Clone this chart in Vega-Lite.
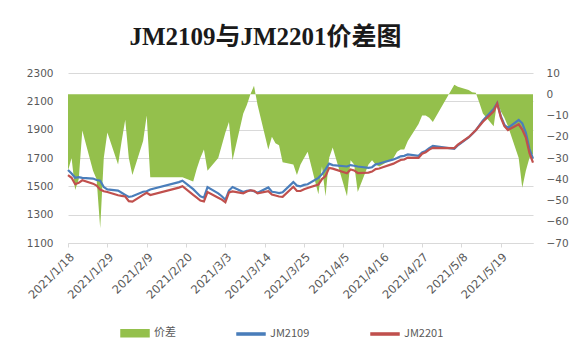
{
  "$schema": "https://vega.github.io/schema/vega-lite/v6.json",
  "width": 465,
  "height": 170,
  "autosize": "none",
  "padding": {"left": 68, "top": 73, "right": 41, "bottom": 106},
  "background": "white",
  "title": {"text": "JM2109与JM2201价差图", "font": "Liberation Serif, Noto Sans CJK SC", "fontSize": 25, "fontWeight": "bold", "color": "#1a1a1a", "anchor": "middle", "dx": -35, "offset": 18},
  "config": {
    "view": {"stroke": null},
    "axis": {"labelColor": "#595959", "labelFont": "DejaVu Sans", "title": null},
    "legend": {"labelFont": "Noto Sans CJK SC", "labelFontSize": 11, "labelColor": "#595959"}
  },
  "data": {"values": [
    {"date": "2021-01-18", "spread": -36, "JM2109": 1615, "JM2201": 1579},
    {"date": "2021-01-19", "spread": -30, "JM2109": 1590, "JM2201": 1560},
    {"date": "2021-01-20", "spread": -45, "JM2109": 1560, "JM2201": 1515},
    {"date": "2021-01-21", "spread": -40, "JM2109": 1565, "JM2201": 1525},
    {"date": "2021-01-22", "spread": -17, "JM2109": 1560, "JM2201": 1543},
    {"date": "2021-01-25", "spread": -36, "JM2109": 1555, "JM2201": 1519},
    {"date": "2021-01-26", "spread": -40, "JM2109": 1545, "JM2201": 1505},
    {"date": "2021-01-27", "spread": -63, "JM2109": 1540, "JM2201": 1477},
    {"date": "2021-01-28", "spread": -30, "JM2109": 1495, "JM2201": 1465},
    {"date": "2021-01-29", "spread": -18, "JM2109": 1478, "JM2201": 1460},
    {"date": "2021-02-01", "spread": -33, "JM2109": 1470, "JM2201": 1437},
    {"date": "2021-02-02", "spread": -22, "JM2109": 1455, "JM2201": 1433},
    {"date": "2021-02-03", "spread": -12, "JM2109": 1440, "JM2201": 1428},
    {"date": "2021-02-04", "spread": -30, "JM2109": 1425, "JM2201": 1395},
    {"date": "2021-02-05", "spread": -38, "JM2109": 1430, "JM2201": 1392},
    {"date": "2021-02-08", "spread": -22, "JM2109": 1462, "JM2201": 1440},
    {"date": "2021-02-09", "spread": -10, "JM2109": 1465, "JM2201": 1455},
    {"date": "2021-02-10", "spread": -39, "JM2109": 1478, "JM2201": 1439},
    {"date": "2021-02-18", "spread": -39, "JM2109": 1530, "JM2201": 1491},
    {"date": "2021-02-19", "spread": -39, "JM2109": 1540, "JM2201": 1501},
    {"date": "2021-02-22", "spread": -41, "JM2109": 1480, "JM2201": 1439},
    {"date": "2021-02-23", "spread": -35, "JM2109": 1455, "JM2201": 1420},
    {"date": "2021-02-24", "spread": -30, "JM2109": 1430, "JM2201": 1400},
    {"date": "2021-02-25", "spread": -26, "JM2109": 1420, "JM2201": 1394},
    {"date": "2021-02-26", "spread": -36, "JM2109": 1495, "JM2201": 1459},
    {"date": "2021-03-01", "spread": -30, "JM2109": 1450, "JM2201": 1420},
    {"date": "2021-03-02", "spread": -24, "JM2109": 1430, "JM2201": 1406},
    {"date": "2021-03-03", "spread": -18, "JM2109": 1405, "JM2201": 1387},
    {"date": "2021-03-04", "spread": -13, "JM2109": 1470, "JM2201": 1457},
    {"date": "2021-03-05", "spread": -31, "JM2109": 1495, "JM2201": 1464},
    {"date": "2021-03-08", "spread": -9, "JM2109": 1460, "JM2201": 1451},
    {"date": "2021-03-09", "spread": -5, "JM2109": 1468, "JM2201": 1463},
    {"date": "2021-03-10", "spread": 0, "JM2109": 1472, "JM2201": 1472},
    {"date": "2021-03-11", "spread": 4, "JM2109": 1465, "JM2201": 1469},
    {"date": "2021-03-12", "spread": -5, "JM2109": 1455, "JM2201": 1450},
    {"date": "2021-03-15", "spread": -26, "JM2109": 1492, "JM2201": 1466},
    {"date": "2021-03-16", "spread": -20, "JM2109": 1462, "JM2201": 1442},
    {"date": "2021-03-17", "spread": -23, "JM2109": 1458, "JM2201": 1435},
    {"date": "2021-03-18", "spread": -24, "JM2109": 1452, "JM2201": 1428},
    {"date": "2021-03-19", "spread": -32, "JM2109": 1458, "JM2201": 1426},
    {"date": "2021-03-22", "spread": -33, "JM2109": 1530, "JM2201": 1497},
    {"date": "2021-03-23", "spread": -38, "JM2109": 1505, "JM2201": 1467},
    {"date": "2021-03-24", "spread": -33, "JM2109": 1500, "JM2201": 1467},
    {"date": "2021-03-25", "spread": -30, "JM2109": 1510, "JM2201": 1480},
    {"date": "2021-03-26", "spread": -27, "JM2109": 1515, "JM2201": 1488},
    {"date": "2021-03-29", "spread": -47, "JM2109": 1560, "JM2201": 1513},
    {"date": "2021-03-30", "spread": -34, "JM2109": 1585, "JM2201": 1551},
    {"date": "2021-03-31", "spread": -48, "JM2109": 1620, "JM2201": 1572},
    {"date": "2021-04-01", "spread": -30, "JM2109": 1660, "JM2201": 1630},
    {"date": "2021-04-02", "spread": -25, "JM2109": 1650, "JM2201": 1625},
    {"date": "2021-04-06", "spread": -48, "JM2109": 1640, "JM2201": 1592},
    {"date": "2021-04-07", "spread": -31, "JM2109": 1650, "JM2201": 1619},
    {"date": "2021-04-08", "spread": -33, "JM2109": 1645, "JM2201": 1612},
    {"date": "2021-04-09", "spread": -46, "JM2109": 1640, "JM2201": 1594},
    {"date": "2021-04-12", "spread": -33, "JM2109": 1630, "JM2201": 1597},
    {"date": "2021-04-13", "spread": -31, "JM2109": 1635, "JM2201": 1604},
    {"date": "2021-04-14", "spread": -33, "JM2109": 1655, "JM2201": 1622},
    {"date": "2021-04-15", "spread": -34, "JM2109": 1660, "JM2201": 1626},
    {"date": "2021-04-16", "spread": -33, "JM2109": 1668, "JM2201": 1635},
    {"date": "2021-04-19", "spread": -30, "JM2109": 1690, "JM2201": 1660},
    {"date": "2021-04-20", "spread": -27, "JM2109": 1700, "JM2201": 1673},
    {"date": "2021-04-21", "spread": -26, "JM2109": 1712, "JM2201": 1686},
    {"date": "2021-04-22", "spread": -26, "JM2109": 1715, "JM2201": 1689},
    {"date": "2021-04-23", "spread": -22, "JM2109": 1725, "JM2201": 1703},
    {"date": "2021-04-26", "spread": -14, "JM2109": 1715, "JM2201": 1701},
    {"date": "2021-04-27", "spread": -10, "JM2109": 1740, "JM2201": 1730},
    {"date": "2021-04-28", "spread": -10, "JM2109": 1750, "JM2201": 1740},
    {"date": "2021-04-29", "spread": -11, "JM2109": 1770, "JM2201": 1759},
    {"date": "2021-04-30", "spread": -13, "JM2109": 1785, "JM2201": 1772},
    {"date": "2021-05-06", "spread": 4.5, "JM2109": 1765, "JM2201": 1770},
    {"date": "2021-05-07", "spread": 3.5, "JM2109": 1790, "JM2201": 1794},
    {"date": "2021-05-10", "spread": 2, "JM2109": 1845, "JM2201": 1847},
    {"date": "2021-05-11", "spread": 1, "JM2109": 1870, "JM2201": 1871},
    {"date": "2021-05-12", "spread": 0.7, "JM2109": 1895, "JM2201": 1896},
    {"date": "2021-05-13", "spread": -4, "JM2109": 1930, "JM2201": 1926},
    {"date": "2021-05-14", "spread": -9, "JM2109": 1965, "JM2201": 1956},
    {"date": "2021-05-17", "spread": -15, "JM2109": 2045, "JM2201": 2030},
    {"date": "2021-05-18", "spread": -3, "JM2109": 2088, "JM2201": 2085},
    {"date": "2021-05-19", "spread": -8, "JM2109": 1995, "JM2201": 1987},
    {"date": "2021-05-20", "spread": -11, "JM2109": 1935, "JM2201": 1924},
    {"date": "2021-05-21", "spread": -15, "JM2109": 1912, "JM2201": 1897},
    {"date": "2021-05-24", "spread": -30, "JM2109": 1968, "JM2201": 1938},
    {"date": "2021-05-25", "spread": -44, "JM2109": 1945, "JM2201": 1901},
    {"date": "2021-05-26", "spread": -36, "JM2109": 1880, "JM2201": 1844},
    {"date": "2021-05-27", "spread": -30, "JM2109": 1765, "JM2201": 1735},
    {"date": "2021-05-28", "spread": -28, "JM2109": 1695, "JM2201": 1667}
  ]},
  "encoding": {
    "x": {
      "field": "date", "type": "temporal",
      "scale": {"type": "utc", "domain": [{"year": 2021, "month": 1, "date": 18, "utc": true}, {"year": 2021, "month": 5, "date": 28, "utc": true}], "nice": false},
      "axis": {
        "values": [
          {"year": 2021, "month": 1, "date": 18, "utc": true},
          {"year": 2021, "month": 1, "date": 29, "utc": true},
          {"year": 2021, "month": 2, "date": 9, "utc": true},
          {"year": 2021, "month": 2, "date": 20, "utc": true},
          {"year": 2021, "month": 3, "date": 3, "utc": true},
          {"year": 2021, "month": 3, "date": 14, "utc": true},
          {"year": 2021, "month": 3, "date": 25, "utc": true},
          {"year": 2021, "month": 4, "date": 5, "utc": true},
          {"year": 2021, "month": 4, "date": 16, "utc": true},
          {"year": 2021, "month": 4, "date": 27, "utc": true},
          {"year": 2021, "month": 5, "date": 8, "utc": true},
          {"year": 2021, "month": 5, "date": 19, "utc": true}
        ],
        "format": "%Y/%-m/%-d",
        "labelAngle": -45,
        "labelFontSize": 11.5,
        "labelPadding": 4,
        "labelOverlap": false,
        "labelBound": false,
        "labelFlush": false,
        "grid": false,
        "domainColor": "#d9d9d9",
        "tickColor": "#d9d9d9",
        "tickSize": 4
      }
    }
  },
  "layer": [
    {
      "mark": {"type": "area", "opacity": 1},
      "encoding": {
        "y": {
          "field": "spread", "type": "quantitative", "stack": null,
          "scale": {"domain": [-70, 10], "nice": false, "zero": false},
          "axis": {"orient": "right", "values": [-70, -60, -50, -40, -30, -20, -10, 0, 10], "grid": false, "domain": false, "ticks": false, "labelPadding": 13, "labelFontSize": 10.5}
        },
        "y2": {"datum": 0},
        "color": {"datum": "价差", "type": "nominal"}
      }
    },
    {
      "transform": [{"fold": ["JM2109", "JM2201"], "as": ["series", "price"]}],
      "mark": {"type": "line", "strokeWidth": 2.2},
      "encoding": {
        "y": {
          "field": "price", "type": "quantitative",
          "scale": {"domain": [1100, 2300], "nice": false, "zero": false},
          "axis": {"orient": "left", "values": [1100, 1300, 1500, 1700, 1900, 2100, 2300], "format": "d", "grid": true, "gridColor": "#d9d9d9", "domain": false, "ticks": false, "labelPadding": 15, "labelFontSize": 10.5}
        },
        "color": {
          "field": "series", "type": "nominal",
          "scale": {"domain": ["价差", "JM2109", "JM2201"], "range": ["#94c04c", "#4a7ebb", "#c0504d"]},
          "legend": {
            "title": null, "orient": "none", "legendX": 52, "legendY": 245, "direction": "horizontal",
            "columnPadding": 58, "symbolSize": 784, "labelOffset": 4,
            "symbolType": "M-1,-0.25H1V0.25H-1Z",
            "encode": {"symbols": {"update": {
              "shape": {"signal": "datum.value === '价差' ? 'M-1,-0.25H1V0.25H-1Z' : 'M-1,-0.08H1V0.08H-1Z'"},
              "fill": {"scale": "color", "field": "value"},
              "stroke": {"value": "transparent"},
              "opacity": {"value": 1}
            }}}
          }
        }
      }
    }
  ],
  "resolve": {"scale": {"y": "independent"}}
}
